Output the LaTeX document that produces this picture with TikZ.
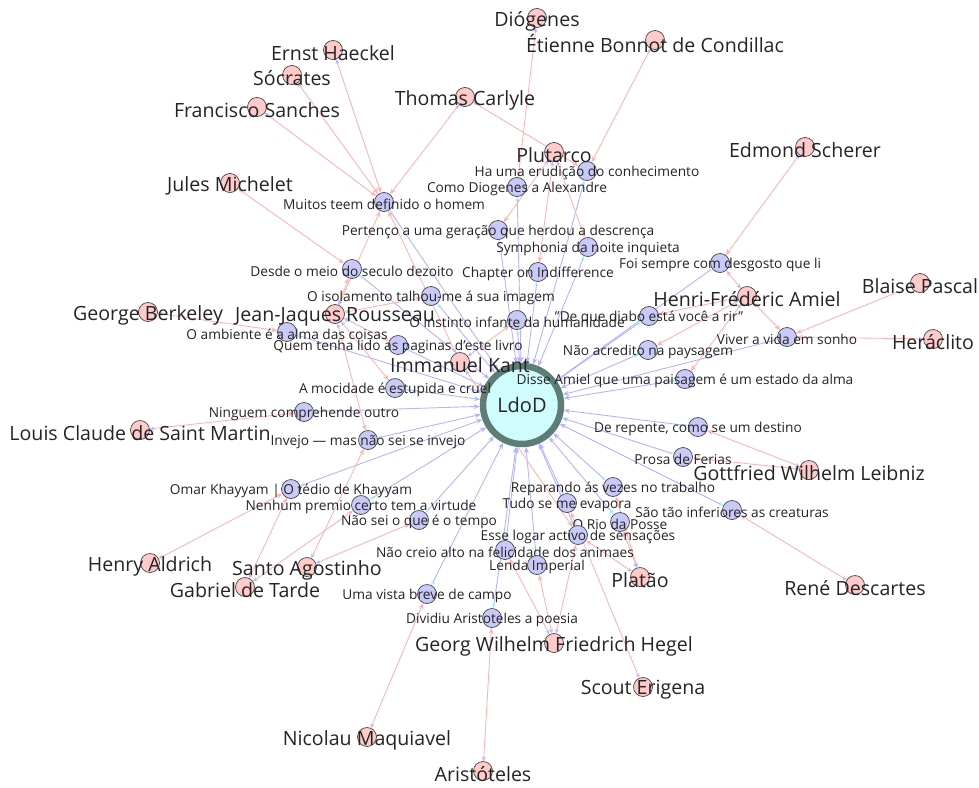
\documentclass[tikz,border=0pt]{standalone}
\usepackage{fontspec}
\setmainfont{Open Sans}
\usetikzlibrary{arrows.meta}
\definecolor{pinkfill}{HTML}{FFCACA}
\definecolor{bluefill}{HTML}{C9C9FA}
\definecolor{hubfill}{HTML}{CFFCFC}
\definecolor{hubring}{HTML}{5E7D76}
\definecolor{pinkline}{HTML}{FFB4B4}
\definecolor{blueline}{HTML}{B4B4FF}
\definecolor{tipcyan}{HTML}{A6F2F2}
\definecolor{ink}{HTML}{242424}
\pgfdeclarelayer{edges}
\pgfsetlayers{edges,main}
\tikzset{
  person/.style={circle, draw=ink!85, fill=pinkfill, line width=0.7pt,
                 minimum size=19pt, inner sep=0pt},
  quote/.style={circle, draw=ink!85, fill=bluefill, line width=0.7pt,
                minimum size=19pt, inner sep=0pt},
  hub/.style={circle, draw=hubring, fill=hubfill, line width=6.5pt,
              minimum size=78pt, inner sep=0pt, text=ink,
              font=\fontsize{20}{20}\selectfont},
  bigtxt/.style={font=\fontsize{19.6}{19.6}\selectfont, text=ink, inner sep=0pt, yshift=-3pt},
  smalltxt/.style={font=\fontsize{13.7}{13.7}\selectfont, text=ink, inner sep=0pt, yshift=-2pt},
  cites/.style={draw=pinkline, line width=0.9pt,
                {Stealth[length=4.5pt,width=4pt,color=blueline]}-{Stealth[length=6pt,width=5pt,color=pinkline]}},
  feeds/.style={draw=blueline, line width=0.9pt,
                {Stealth[length=4.5pt,width=4pt,color=tipcyan]}-{Stealth[length=6pt,width=5pt,color=blueline]}}
}

\begin{document}
\begin{tikzpicture}[x=1pt,y=-1pt]
  \useasboundingbox (0,0) rectangle (979,787);

  % central fragment collection
  \node[hub] (ldod) at (522,405) {LdoD};

  % fragments
  \node[quote,label={[smalltxt]center:{Muitos teem definido o homem}}] (muitos) at (384,202) {};
  \node[quote,label={[smalltxt]center:{Ha uma erudição do conhecimento}}] (erudicao) at (587,171) {};
  \node[quote,label={[smalltxt]center:{Como Diogenes a Alexandre}}] (diogcomo) at (517,187) {};
  \node[quote,label={[smalltxt]center:{Pertenço a uma geração que herdou a descrença}}] (pertenco) at (498,230) {};
  \node[quote,label={[smalltxt]center:{Symphonia da noite inquieta}}] (symphonia) at (588,247) {};
  \node[quote,label={[smalltxt]center:{Desde o meio do seculo dezoito}}] (desde) at (352,269) {};
  \node[quote,label={[smalltxt]center:{Chapter on Indifference}}] (chapter) at (538,272) {};
  \node[quote,label={[smalltxt]center:{Foi sempre com desgosto que li}}] (foisempre) at (720,263) {};
  \node[quote,label={[smalltxt]center:{O isolamento talhou-me á sua imagem}}] (isolamento) at (431,296) {};
  \node[quote,label={[smalltxt]center:{O instinto infante da humanidade}}] (instinto) at (517,320) {};
  \node[quote,label={[smalltxt]center:{"De que diabo está você a rir"}}] (diabo) at (649,316) {};
  \node[quote,label={[smalltxt]center:{Não acredito na paysagem}}] (naoacredito) at (648,350) {};
  \node[quote,label={[smalltxt]center:{Viver a vida em sonho}}] (viver) at (787,337) {};
  \node[quote,label={[smalltxt]center:{O ambiente é a alma das coisas}}] (ambiente) at (287,332) {};
  \node[quote,label={[smalltxt]center:{Quem tenha lido as paginas d'este livro}}] (quem) at (398,345) {};
  \node[quote,label={[smalltxt]center:{Disse Amiel que uma paisagem é um estado da alma}}] (disse) at (685,379) {};
  \node[quote,label={[smalltxt]center:{A mocidade é estupida e cruel}}] (mocidade) at (395,388) {};
  \node[quote,label={[smalltxt]center:{Ninguem comprehende outro}}] (ninguem) at (304,412) {};
  \node[quote,label={[smalltxt]center:{Invejo — mas não sei se invejo}}] (invejo) at (368,440) {};
  \node[quote,label={[smalltxt]center:{De repente, como se um destino}}] (repente) at (698,427) {};
  \node[quote,label={[smalltxt]center:{Prosa de Ferias}}] (prosa) at (683,457) {};
  \node[quote,label={[smalltxt]center:{Omar Khayyam | O tédio de Khayyam}}] (omar) at (291,489) {};
  \node[quote,label={[smalltxt]center:{Nenhum premio certo tem a virtude}}] (nenhum) at (361,505) {};
  \node[quote,label={[smalltxt]center:{Não sei o que é o tempo}}] (naosei) at (419,520) {};
  \node[quote,label={[smalltxt]center:{Reparando ás vezes no trabalho}}] (reparando) at (613,487) {};
  \node[quote,label={[smalltxt]center:{Tudo se me evapora}}] (tudo) at (567,503) {};
  \node[quote,label={[smalltxt]center:{São tão inferiores as creaturas}}] (inferiores) at (732,510) {};
  \node[quote,label={[smalltxt]center:{O Rio da Posse}}] (rio) at (620,522) {};
  \node[quote,label={[smalltxt]center:{Esse logar activo de sensações}}] (esse) at (578,535) {};
  \node[quote,label={[smalltxt]center:{Não creio alto na felicidade dos animaes}}] (naocreio) at (505,550) {};
  \node[quote,label={[smalltxt]center:{Lenda Imperial}}] (lenda) at (537,565) {};
  \node[quote,label={[smalltxt]center:{Uma vista breve de campo}}] (vista) at (427,594) {};
  \node[quote,label={[smalltxt]center:{Dividiu Aristoteles a poesia}}] (dividiu) at (492,618) {};

  % cited authors
  \node[person,label={[bigtxt]center:{Diógenes}}] (diogenes) at (537,18) {};
  \node[person,label={[bigtxt]center:{Étienne Bonnot de Condillac}}] (condillac) at (655,40) {};
  \node[person,label={[bigtxt]center:{Ernst Haeckel}}] (haeckel) at (333,50) {};
  \node[person,label={[bigtxt]center:{Sócrates}}] (socrates) at (292,75) {};
  \node[person,label={[bigtxt]center:{Francisco Sanches}}] (sanches) at (257,107) {};
  \node[person,label={[bigtxt]center:{Thomas Carlyle}}] (carlyle) at (465,97) {};
  \node[person,label={[bigtxt]center:{Plutarco}}] (plutarco) at (554,152) {};
  \node[person,label={[bigtxt]center:{Edmond Scherer}}] (scherer) at (805,147) {};
  \node[person,label={[bigtxt]center:{Jules Michelet}}] (michelet) at (230,183) {};
  \node[person,label={[bigtxt]center:{Blaise Pascal}}] (pascal) at (920,283) {};
  \node[person,label={[bigtxt]center:{Heráclito}}] (heraclito) at (933,339) {};
  \node[person,label={[bigtxt]center:{Henri-Frédéric Amiel}}] (amiel) at (747,296) {};
  \node[person,label={[bigtxt]center:{George Berkeley}}] (berkeley) at (148,312) {};
  \node[person,label={[bigtxt]center:{Jean-Jaques Rousseau}}] (rousseau) at (335,314) {};
  \node[person,label={[bigtxt]center:{Immanuel Kant}}] (kant) at (460,362) {};
  \node[person,label={[bigtxt]center:{Louis Claude de Saint Martin}}] (saintmartin) at (140,430) {};
  \node[person,label={[bigtxt]center:{Gottfried Wilhelm Leibniz}}] (leibniz) at (809,470) {};
  \node[person,label={[bigtxt]center:{Henry Aldrich}}] (aldrich) at (150,563) {};
  \node[person,label={[bigtxt]center:{Santo Agostinho}}] (agostinho) at (307,567) {};
  \node[person,label={[bigtxt]center:{Gabriel de Tarde}}] (tarde) at (245,587) {};
  \node[person,label={[bigtxt]center:{Platão}}] (platao) at (640,577) {};
  \node[person,label={[bigtxt]center:{René Descartes}}] (descartes) at (855,585) {};
  \node[person,label={[bigtxt]center:{Georg Wilhelm Friedrich Hegel}}] (hegel) at (554,643) {};
  \node[person,label={[bigtxt]center:{Scout Erigena}}] (erigena) at (643,687) {};
  \node[person,label={[bigtxt]center:{Nicolau Maquiavel}}] (maquiavel) at (367,737) {};
  \node[person,label={[bigtxt]center:{Aristóteles}}] (aristoteles) at (483,771) {};

  \begin{pgfonlayer}{edges}
    % every fragment belongs to LdoD
    \foreach \q in {muitos,erudicao,diogcomo,pertenco,symphonia,desde,chapter,foisempre,
                    isolamento,instinto,diabo,naoacredito,viver,ambiente,quem,disse,
                    mocidade,ninguem,invejo,repente,prosa,omar,nenhum,naosei,reparando,
                    tudo,inferiores,rio,esse,naocreio,lenda,vista,dividiu}
      {\draw[feeds] (\q) -- (ldod);}
    % authors cited in fragments
    \foreach \p/\q in {haeckel/muitos,socrates/muitos,sanches/muitos,carlyle/muitos,
                       carlyle/erudicao,condillac/erudicao,diogenes/diogcomo,
                       plutarco/pertenco,plutarco/chapter,plutarco/symphonia,
                       michelet/desde,rousseau/desde,rousseau/muitos,kant/muitos,
                       rousseau/isolamento,rousseau/quem,rousseau/mocidade,rousseau/invejo,
                       kant/instinto,kant/esse,berkeley/ambiente,saintmartin/ninguem,
                       aldrich/omar,tarde/omar,tarde/nenhum,agostinho/invejo,agostinho/naosei,
                       scherer/foisempre,amiel/foisempre,amiel/diabo,amiel/naoacredito,
                       amiel/viver,amiel/disse,pascal/viver,heraclito/viver,
                       leibniz/repente,leibniz/prosa,descartes/inferiores,
                       platao/reparando,platao/rio,platao/esse,erigena/tudo,
                       hegel/naocreio,hegel/lenda,hegel/esse,maquiavel/vista,aristoteles/dividiu}
      {\draw[cites] (\p) -- (\q);}
  \end{pgfonlayer}
\end{tikzpicture}
\end{document}
